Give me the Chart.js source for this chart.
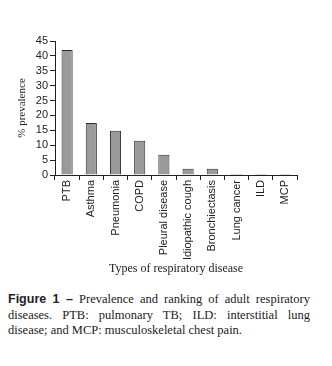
<!DOCTYPE html>
<html>
<head>
<meta charset="utf-8">
<script src="https://cdn.jsdelivr.net/npm/chart.js@4.4.0/dist/chart.umd.min.js"></script>
<style>
  body { margin: 0; background: #fff; }
  #wrap { position: relative; width: 332px; height: 366px; }
  #chart { position: absolute; left: 0; top: 0; }
  #caption {
    position: absolute; left: 8px; top: 292px; width: 302px;
    font-family: "Liberation Serif", serif; font-size: 12.5px; line-height: 15.5px; color: #222;
  }
  #caption div { text-align: justify; text-align-last: justify; white-space: nowrap; }
  #caption div.last { text-align-last: left; }
  #caption b { font-family: "Liberation Sans", sans-serif; font-weight: bold; }
</style>
</head>
<body>
<div id="wrap">
  <canvas id="chart" width="332" height="280"></canvas>
  <div id="caption">
    <div><b>Figure 1 –</b> Prevalence and ranking of adult respiratory</div>
    <div>diseases. PTB: pulmonary TB; ILD: interstitial lung</div>
    <div class="last">disease; and MCP: musculoskeletal chest pain.</div>
  </div>
</div>
<script>
// 疾病类别
const categories = ['PTB', 'Asthma', 'Pneumonia', 'COPD', 'Pleural disease',
    'Idiopathic cough', 'Bronchiectasis', 'Lung cancer', 'ILD', 'MCP'];
// 患病率 (%)
const prevalence = [42, 17.5, 14.9, 11.5, 6.8, 2.1, 2.1, 0.3, 0.3, 0.3];
// y 轴刻度
const yMin = 0, yMax = 45, yStep = 5;

const ctx = document.getElementById('chart').getContext('2d');
new Chart(ctx, {
    type: 'bar',
    data: {
        labels: categories,
        datasets: [{
            data: prevalence,
            backgroundColor: '#9a9a9a',
            borderColor: '#2a2a2a',
            borderWidth: 1,
            barPercentage: 0.46,
            categoryPercentage: 1
        }]
    },
    options: {
        responsive: false,
        animation: false,
        layout: { padding: { left: 0, right: 35, top: 41, bottom: 0 } },
        plugins: { legend: { display: false }, tooltip: { enabled: false } },
        scales: {
            x: {
                afterFit: s => { s.height = 105; },
                grid: { offset: true, drawOnChartArea: false, drawTicks: true, tickLength: 5, color: '#222' },
                border: { display: true, color: '#222', width: 1 },
                ticks: {
                    minRotation: 90, maxRotation: 90, autoSkip: false, padding: 0,
                    color: '#222', font: { family: 'Liberation Sans', size: 11 }
                },
                title: {
                    display: true, text: 'Types of respiratory disease', color: '#222',
                    font: { family: 'Liberation Serif', size: 12 }, padding: { top: 0, bottom: 4 }
                }
            },
            y: {
                min: yMin, max: yMax,
                afterFit: s => { s.width = 55; },
                grid: { drawOnChartArea: false, drawTicks: true, tickLength: 5, color: '#222' },
                border: { display: true, color: '#222', width: 1 },
                ticks: {
                    stepSize: yStep, autoSkip: false, padding: 2, color: '#222',
                    font: { family: 'Liberation Sans', size: 11 }
                },
                title: {
                    display: true, text: '% prevalence', color: '#222',
                    font: { family: 'Liberation Serif', size: 11 }, padding: { top: 16, bottom: 0 }
                }
            }
        }
    }
});
</script>
</body>
</html>
